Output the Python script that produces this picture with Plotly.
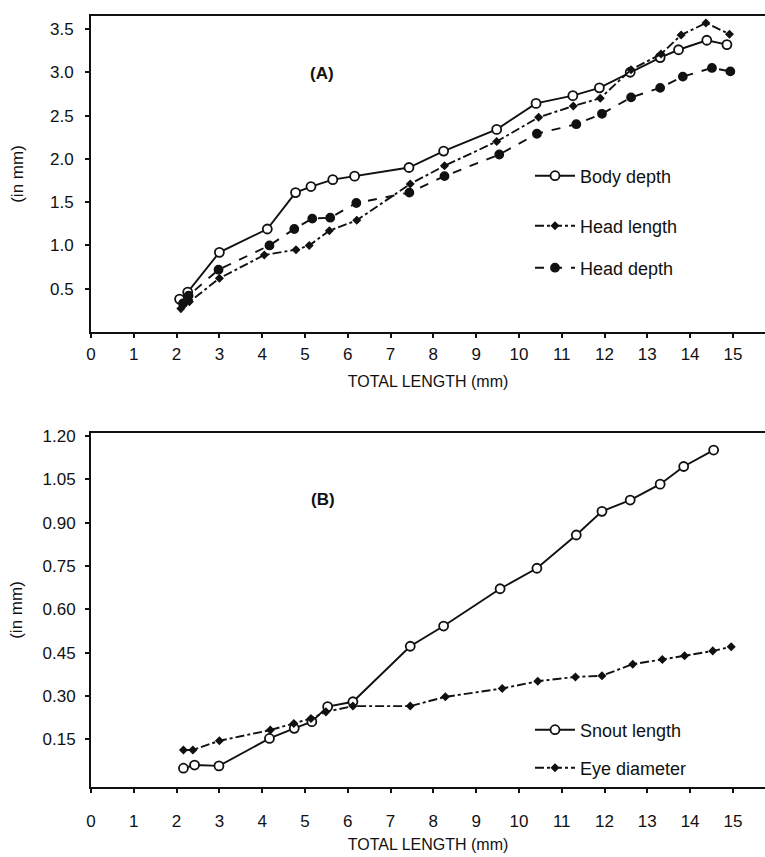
import plotly.graph_objects as go

# ---------------- Panel A data ----------------
body_x = [2.07, 2.26, 3.0, 4.12, 4.78, 5.14, 5.65, 6.16, 7.43, 8.24, 9.48, 10.40, 11.26, 11.88, 12.60, 13.30, 13.73, 14.39, 14.86]
body_y = [0.38, 0.46, 0.92, 1.19, 1.61, 1.68, 1.76, 1.80, 1.90, 2.09, 2.34, 2.64, 2.73, 2.82, 3.00, 3.17, 3.26, 3.37, 3.32]

hlen_x = [2.10, 2.30, 3.0, 4.05, 4.79, 5.10, 5.57, 6.21, 7.46, 8.26, 9.48, 10.46, 11.27, 11.90, 12.62, 13.32, 13.79, 14.37, 14.92]
hlen_y = [0.27, 0.35, 0.62, 0.89, 0.95, 1.00, 1.17, 1.29, 1.71, 1.92, 2.20, 2.48, 2.61, 2.70, 3.03, 3.21, 3.43, 3.57, 3.44]

hdep_x = [2.15, 2.28, 2.98, 4.17, 4.75, 5.17, 5.59, 6.20, 7.44, 8.26, 9.54, 10.42, 11.34, 11.94, 12.62, 13.30, 13.83, 14.51, 14.94]
hdep_y = [0.33, 0.42, 0.72, 1.00, 1.19, 1.31, 1.32, 1.49, 1.61, 1.80, 2.05, 2.29, 2.40, 2.52, 2.71, 2.82, 2.95, 3.05, 3.01]

# ---------------- Panel B data ----------------
snout_x = [2.16, 2.42, 2.99, 4.17, 4.75, 5.16, 5.53, 6.12, 7.46, 8.24, 9.56, 10.42, 11.34, 11.94, 12.60, 13.30, 13.85, 14.55]
snout_y = [0.050, 0.061, 0.058, 0.153, 0.188, 0.211, 0.263, 0.280, 0.472, 0.542, 0.671, 0.742, 0.857, 0.939, 0.978, 1.033, 1.094, 1.151]

eye_x = [2.16, 2.38, 3.0, 4.19, 4.74, 5.14, 5.49, 6.12, 7.46, 8.28, 9.61, 10.44, 11.32, 11.94, 12.66, 13.35, 13.87, 14.53, 14.96]
eye_y = [0.113, 0.113, 0.145, 0.182, 0.205, 0.222, 0.245, 0.265, 0.265, 0.297, 0.326, 0.351, 0.366, 0.370, 0.410, 0.426, 0.439, 0.456, 0.470]

x_ticks = list(range(0, 16))
yA_ticks = [0.5, 1.0, 1.5, 2.0, 2.5, 3.0, 3.5]
yA_labels = ["0.5", "1.0", "1.5", "2.0", "2.5", "3.0", "3.5"]
yB_ticks = [0.15, 0.30, 0.45, 0.60, 0.75, 0.90, 1.05, 1.20]
yB_labels = ["0.15", "0.30", "0.45", "0.60", "0.75", "0.90", "1.05", "1.20"]

FONT = "Liberation Sans"
BLACK = "#111111"

fig = go.Figure()

def add(x, y, name, xa, ya, dash, fill, symbol, size, legend):
    fig.add_trace(go.Scatter(
        x=x, y=y, name=name, xaxis=xa, yaxis=ya, mode="lines+markers",
        line=dict(color=BLACK, width=1.9, dash=dash),
        marker=dict(symbol=symbol, size=size, color=fill,
                    line=dict(color=BLACK, width=1.8)),
        legend=legend, showlegend=True,
    ))

add(body_x, body_y, "Body depth", "x", "y", "solid", "white", "circle", 9, "legend")
add(hlen_x, hlen_y, "Head length", "x", "y", "dashdot", BLACK, "diamond", 5, "legend2")
add(hdep_x, hdep_y, "Head depth", "x", "y", "dash", BLACK, "circle", 8, "legend3")
add(snout_x, snout_y, "Snout length", "x2", "y2", "solid", "white", "circle", 9, "legend4")
add(eye_x, eye_y, "Eye diameter", "x2", "y2", "dashdot", BLACK, "diamond", 5, "legend5")

W, H = 765, 857
L, R, T, B = 91, 0, 16, 70
ph = H - T - B
dA0 = (787 - 332) / ph
dB1 = (787 - 433) / ph

def px2paper_x(px):
    return (px - L) / (W - L - R)

def px2paper_y(py):
    return 1 - (py - T) / ph

axis_common = dict(showline=True, linecolor=BLACK, linewidth=2, ticks="outside",
                   tickcolor=BLACK, ticklen=4, tickwidth=1.5, showgrid=False, zeroline=False,
                   automargin=False,
                   tickfont=dict(family=FONT, size=17, color=BLACK))

def leg(px, py):
    return dict(x=px2paper_x(px), y=px2paper_y(py), xanchor="left", yanchor="middle",
                bgcolor="rgba(0,0,0,0)", font=dict(family=FONT, size=18, color=BLACK),
                itemwidth=40)

fig.update_layout(
    width=W, height=H,
    margin=dict(l=L, r=R, t=T, b=B, autoexpand=False),
    paper_bgcolor="white", plot_bgcolor="white",
    font=dict(family=FONT, color=BLACK),
    xaxis=dict(domain=[0, 1], anchor="y", range=[0, 15.75], tickvals=x_ticks, mirror=True,
               title=dict(text="TOTAL LENGTH (mm)", font=dict(family=FONT, size=16), standoff=12),
               ticklabelstandoff=2, **axis_common),
    yaxis=dict(domain=[dA0, 1], anchor="x", range=[0, 3.65], tickvals=yA_ticks, ticktext=yA_labels,
               title=dict(text="(in mm)", font=dict(family=FONT, size=17), standoff=22),
               ticklabelstandoff=8, **axis_common),
    xaxis2=dict(domain=[0, 1], anchor="y2", range=[0, 15.75], tickvals=x_ticks, mirror=True,
                title=dict(text="TOTAL LENGTH (mm)", font=dict(family=FONT, size=16), standoff=8),
                ticklabelstandoff=14, **axis_common),
    yaxis2=dict(domain=[0, dB1], anchor="x2", range=[-0.015, 1.21], tickvals=yB_ticks, ticktext=yB_labels,
                title=dict(text="(in mm)", font=dict(family=FONT, size=17), standoff=16),
                ticklabelstandoff=6, **axis_common),
    legend=leg(530, 176),
    legend2=leg(530, 226),
    legend3=leg(530, 268),
    legend4=leg(530, 730),
    legend5=leg(530, 768),
    annotations=[
        dict(text="<b>(A)</b>", xref="paper", yref="paper", x=px2paper_x(322), y=px2paper_y(62),
             showarrow=False, font=dict(family=FONT, size=17, color=BLACK)),
        dict(text="<b>(B)</b>", xref="paper", yref="paper", x=px2paper_x(323), y=px2paper_y(499),
             showarrow=False, font=dict(family=FONT, size=17, color=BLACK)),
    ],
)

fig.write_html("out.html", config={"displayModeBar": False},
               post_script="document.body.style.margin='0';document.body.style.overflow='hidden';")
